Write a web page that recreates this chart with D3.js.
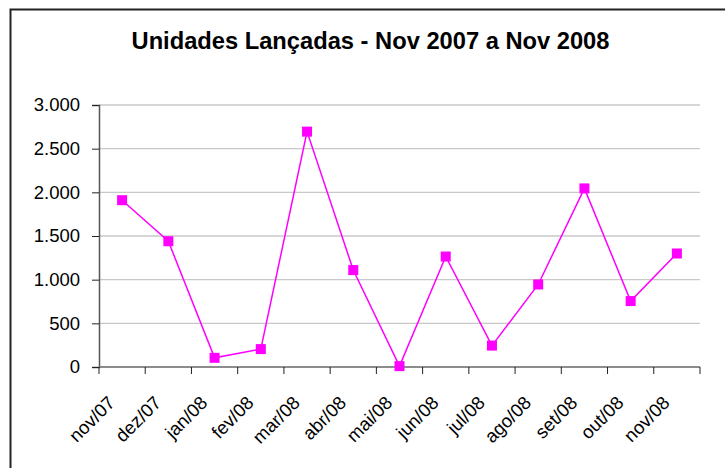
<!DOCTYPE html>
<html>
<head>
<meta charset="utf-8">
<script src="https://cdn.jsdelivr.net/npm/d3@7"></script>
<style>
  body { margin: 0; background: #fff; }
  text { font-family: "Liberation Sans", Arial, sans-serif; }
</style>
</head>
<body>
<div id="chart"></div>
<script>
// months and launched units
var months = ["nov/07", "dez/07", "jan/08", "fev/08", "mar/08", "abr/08", "mai/08",
              "jun/08", "jul/08", "ago/08", "set/08", "out/08", "nov/08"];
var unidades = [1910, 1440, 105, 205, 2695, 1110, 10, 1265, 245, 945, 2045, 755, 1300];
var yTicks = [0, 500, 1000, 1500, 2000, 2500, 3000];
var title = "Unidades Lançadas - Nov 2007 a Nov 2008";

var W = 725, H = 468;
var margin = {top: 105, right: 25, bottom: 101, left: 99};
var width = W - margin.left - margin.right,
    height = H - margin.top - margin.bottom;

var svg = d3.select("#chart").append("svg")
  .attr("width", W)
  .attr("height", H);

// outer chart frame (runs off the right and bottom)
svg.append("rect")
  .attr("x", 10.5).attr("y", 9.5)
  .attr("width", W + 20).attr("height", H + 20)
  .attr("fill", "none")
  .attr("stroke", "#222")
  .attr("stroke-width", 2);

svg.append("text")
  .attr("x", 370.5).attr("y", 48.5)
  .attr("text-anchor", "middle")
  .style("font-size", "23.7px")
  .style("font-weight", "bold")
  .text(title);

var g = svg.append("g")
  .attr("transform", "translate(" + margin.left + "," + margin.top + ")");

var x = d3.scaleBand()
  .domain(months)
  .range([0, width]);

var y = d3.scaleLinear()
  .domain([0, 3000])
  .range([height, 0]);

var fmt = function(d) { return d3.format(",")(d).replace(/,/g, "."); };

// gridlines
g.append("g")
  .selectAll("line")
  .data(yTicks.filter(function(d) { return d > 0; }))
  .enter().append("line")
  .attr("x1", 0).attr("x2", width)
  .attr("y1", function(d) { return y(d); })
  .attr("y2", function(d) { return y(d); })
  .attr("stroke", "#c8c8c8")
  .attr("stroke-width", 1.3);

// y axis
var yAxis = g.append("g")
  .call(d3.axisLeft(y).tickValues(yTicks).tickFormat(fmt).tickSize(7).tickPadding(12));
yAxis.select(".domain").attr("stroke", "#555").attr("stroke-width", 1.5);
yAxis.selectAll(".tick line").attr("stroke", "#222");
yAxis.selectAll("text")
  .style("font-size", "18.5px")
  .attr("fill", "#000");

// x axis, ticks on band edges
var xAxis = g.append("g")
  .attr("transform", "translate(0," + height + ")");
xAxis.append("line")
  .attr("x1", 0).attr("x2", width)
  .attr("stroke", "#666").attr("stroke-width", 1.5);
xAxis.selectAll(".edge")
  .data(months.concat(["end"]))
  .enter().append("line")
  .attr("x1", function(d, i) { return i < months.length ? x(d) : width; })
  .attr("x2", function(d, i) { return i < months.length ? x(d) : width; })
  .attr("y1", 0).attr("y2", 7)
  .attr("stroke", "#222");
xAxis.selectAll(".lbl")
  .data(months)
  .enter().append("text")
  .attr("text-anchor", "end")
  .style("font-size", "18.5px")
  .attr("transform", function(d) {
    return "translate(" + (x(d) + x.bandwidth() / 2 - 6) + ",37) rotate(-45)";
  })
  .text(function(d) { return d; });

// series line and square markers
var cx = function(d, i) { return x(months[i]) + x.bandwidth() / 2; };

g.append("path")
  .datum(unidades)
  .attr("fill", "none")
  .attr("stroke", "#ff00ff")
  .attr("stroke-width", 1.5)
  .attr("d", d3.line().x(cx).y(function(d) { return y(d); }));

g.selectAll(".pt")
  .data(unidades)
  .enter().append("rect")
  .attr("x", function(d, i) { return cx(d, i) - 5; })
  .attr("y", function(d) { return y(d) - 5; })
  .attr("width", 10).attr("height", 10)
  .attr("fill", "#ff00ff");
</script>
</body>
</html>
